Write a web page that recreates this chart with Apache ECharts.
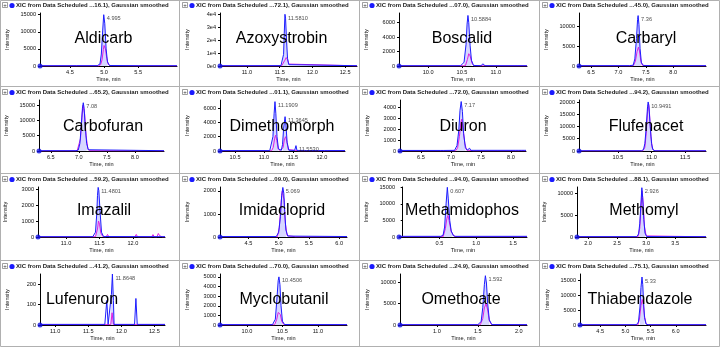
<!DOCTYPE html>
<html><head><meta charset="utf-8">
<script src="https://cdn.jsdelivr.net/npm/echarts@6/dist/echarts.min.js"></script>
<style>html,body{margin:0;padding:0;background:#fff}#c{width:720px;height:347px}</style>
</head><body><div id="c"></div><script>
// ---------- DATA ----------
const names = ["Aldicarb","Azoxystrobin","Boscalid","Carbaryl","Carbofuran","Dimethomorph","Diuron","Flufenacet","Imazalil","Imidacloprid","Methamidophos","Methomyl","Lufenuron","Myclobutanil","Omethoate","Thiabendazole"];
const titleIds = ["16.1","72.1","07.0","45.0","65.2","01.1","72.0","94.2","59.2","09.0","94.0","88.1","41.2","70.0","24.9","75.1"];
const xMins = [4.06,10.59,9.57,6.28,6.29,10.24,6.15,9.92,10.58,4.03,-0.05,1.81,10.77,9.62,0.55,4.10];
const xMaxs = [6.07,12.68,11.46,8.60,8.52,12.40,8.25,11.81,12.48,6.13,1.69,4.03,12.66,11.41,2.10,6.60];
const xTickValues = [[4.5,5.0,5.5],[11.0,11.5,12.0,12.5],[10.0,10.5,11.0],[6.5,7.0,7.5,8.0],[6.5,7.0,7.5,8.0],[10.5,11.0,11.5,12.0],[6.5,7.0,7.5,8.0],[10.5,11.0,11.5],[11.0,11.5,12.0],[4.5,5.0,5.5,6.0],[0.5,1.0,1.5],[2.0,2.5,3.0,3.5],[11.0,11.5,12.0,12.5],[10.0,10.5,11.0],[1.0,1.5,2.0],[4.5,5.0,5.5,6.0]];
const yMaxs = [15500,41000,7340,13460,16700,7130,4640,20800,3125,2170,15100,11360,250,5300,11900,17000];
const yTickValues = [[0,5000,10000,15000],[0,10000,20000,30000,40000],[0,2000,4000,6000],[0,5000,10000],[0,5000,10000,15000],[0,2000,4000,6000],[0,1000,2000,3000,4000],[0,5000,10000,15000,20000],[0,1000,2000,3000],[0,1000,2000],[0,5000,10000,15000],[0,5000,10000],[0,100,200],[0,1000,2000,3000,4000,5000],[0,5000,10000],[0,5000,10000,15000]];
const peakLabels = [[[4.995,15000,"4.995"]],[[11.581,40000,"11.5810"]],[[10.588,7000,"10.5884"]],[[7.36,12800,"7.36"]],[[7.08,15800,"7.08"]],[[11.19,6900,"11.1909"],[11.3645,4800,"11.3645"],[11.553,750,"11.5530"]],[[7.17,4500,"7.17"]],[[10.949,20000,"10.9491"]],[[11.48,3100,"11.4801"]],[[5.069,2150,"5.069"]],[[0.607,15000,"0.607"]],[[2.926,11200,"2.926"]],[[11.8648,250,"11.8648"]],[[10.4506,5000,"10.4506"]],[[1.592,11500,"1.592"]],[[5.33,16000,"5.33"]]];
const fillRanges = [[[4.94,5.05]],[[11.54,11.64]],[[10.53,10.64]],[[7.27,7.42]],[[6.99,7.17]],[[11.13,11.25],[11.32,11.43]],[[7.10,7.24]],[[10.88,11.02]],[[11.44,11.53]],[[5.0,5.12]],[[0.55,0.69]],[[2.87,2.98]],[[11.83,11.89]],[[10.40,10.50]],[[1.54,1.65]],[[5.27,5.40]]];

const blueAldicarb = [[4.06,80],[4.6,90],[4.9,100],[4.94,600],[4.96,3500],[4.98,10500],[4.995,15000],[5.01,12500],[5.03,5000],[5.05,1200],[5.08,150],[5.5,90],[6.07,80]];
const pinkAldicarb = [[4.06,40],[4.92,50],[4.95,400],[4.97,1800],[4.99,4800],[5.0,6000],[5.02,5000],[5.04,2200],[5.06,500],[5.09,50],[6.07,40]];
const blueAzoxystrobin = [[10.59,250],[11.2,250],[11.52,300],[11.54,1500],[11.56,9000],[11.57,25000],[11.581,40000],[11.59,37000],[11.605,20000],[11.62,6000],[11.64,1000],[11.67,300],[12.68,250]];
const pinkAzoxystrobin = [[10.59,100],[11.53,100],[11.56,1500],[11.58,4500],[11.60,6500],[11.62,4800],[11.64,1500],[11.67,150],[12.68,100]];
const blueBoscalid = [[9.57,40],[10.48,40],[10.53,500],[10.56,3000],[10.575,5800],[10.588,7000],[10.60,6000],[10.62,2800],[10.64,800],[10.67,80],[10.78,40],[10.81,300],[10.84,40],[11.46,40]];
const pinkBoscalid = [[9.57,20],[10.28,20],[10.30,180],[10.32,20],[10.55,30],[10.58,900],[10.60,1700],[10.62,1400],[10.65,300],[10.68,30],[10.98,20],[11.0,160],[11.02,20],[11.08,20],[11.1,170],[11.12,20],[11.28,20],[11.3,150],[11.32,20],[11.46,20]];
const blueCarbaryl = [[6.28,80],[7.2,90],[7.27,200],[7.30,1800],[7.33,7000],[7.35,11800],[7.36,12800],[7.375,10500],[7.395,4500],[7.42,800],[7.46,100],[8.6,80]];
const pinkCarbaryl = [[6.28,40],[7.27,40],[7.31,1200],[7.34,3600],[7.365,4800],[7.385,3800],[7.41,1200],[7.44,150],[7.47,40],[7.88,40],[7.9,220],[7.92,40],[8.6,40]];
const blueCarbofuran = [[6.29,100],[6.95,100],[6.99,300],[7.02,2500],[7.045,8500],[7.065,14000],[7.08,15800],[7.095,14000],[7.115,8000],[7.14,2500],[7.17,400],[7.2,100],[8.52,100]];
const pinkCarbofuran = [[6.29,50],[6.97,50],[7.0,600],[7.03,4000],[7.055,11000],[7.075,15000],[7.09,15200],[7.105,12000],[7.13,5000],[7.16,900],[7.19,100],[7.9,60],[7.92,350],[7.94,60],[8.52,50]];
const blueDimethomorph = [[10.24,60],[11.1,60],[11.13,300],[11.155,2000],[11.175,5200],[11.19,6900],[11.205,5200],[11.225,2000],[11.25,300],[11.3,100],[11.32,900],[11.34,3200],[11.3645,4800],[11.38,3600],[11.40,1200],[11.43,100],[11.53,80],[11.553,750],[11.57,80],[11.70,80],[11.72,220],[11.74,60],[11.9,60],[11.92,160],[11.94,60],[12.05,60],[12.07,200],[12.09,60],[12.4,60]];
const pinkDimethomorph = [[10.24,30],[11.13,30],[11.16,500],[11.185,1800],[11.20,2200],[11.22,1500],[11.245,300],[11.28,60],[11.33,500],[11.355,1700],[11.375,2000],[11.395,1300],[11.42,200],[11.45,30],[11.6,30],[11.62,120],[11.64,30],[11.76,30],[11.78,180],[11.8,30],[11.96,30],[11.98,150],[12.0,30],[12.4,30]];
const blueDiuron = [[6.15,50],[6.82,50],[6.85,120],[6.88,50],[7.06,60],[7.10,500],[7.13,1900],[7.15,3700],[7.17,4500],[7.19,3600],[7.21,1600],[7.24,300],[7.27,80],[7.31,250],[7.33,60],[8.08,60],[8.1,150],[8.12,60],[8.18,60],[8.2,220],[8.22,60],[8.25,60]];
const pinkDiuron = [[6.15,20],[7.08,20],[7.11,300],[7.14,1300],[7.165,2600],[7.18,2900],[7.20,2100],[7.23,700],[7.26,80],[7.28,20],[7.38,20],[7.40,160],[7.42,20],[7.73,20],[7.75,110],[7.77,20],[8.25,20]];
const blueFlufenacet = [[9.92,100],[10.85,100],[10.88,600],[10.90,3000],[10.92,9500],[10.94,18000],[10.949,20000],[10.96,18500],[10.98,10000],[11.00,3000],[11.02,500],[11.05,100],[11.81,100]];
const pinkFlufenacet = [[9.92,50],[10.87,50],[10.90,1500],[10.92,7000],[10.94,16000],[10.955,19200],[10.97,15000],[10.99,6000],[11.01,1200],[11.04,100],[11.81,50]];
const blueImazalil = [[10.58,20],[11.40,20],[11.44,300],[11.46,1500],[11.47,2600],[11.48,3100],[11.49,2900],[11.51,1500],[11.53,300],[11.56,30],[12.48,20]];
const pinkImazalil = [[10.58,10],[11.13,10],[11.15,110],[11.17,10],[11.33,10],[11.35,90],[11.37,10],[11.44,20],[11.47,500],[11.485,1000],[11.50,800],[11.52,250],[11.55,20],[11.6,10],[11.62,160],[11.64,10],[11.76,10],[11.78,120],[11.8,10],[11.84,10],[11.86,110],[11.88,10],[11.93,10],[11.95,130],[11.97,10],[12.03,10],[12.05,160],[12.07,10],[12.28,10],[12.30,150],[12.32,10],[12.36,10],[12.38,220],[12.40,80],[12.42,160],[12.44,10],[12.48,10]];
const blueImidacloprid = [[4.03,20],[4.96,20],[5.0,200],[5.03,900],[5.05,1800],[5.069,2150],[5.085,1900],[5.10,1100],[5.12,300],[5.15,40],[6.13,20]];
const pinkImidacloprid = [[4.03,10],[4.63,10],[4.65,90],[4.67,10],[4.98,10],[5.01,400],[5.04,1500],[5.06,2000],[5.075,2050],[5.09,1600],[5.11,600],[5.14,60],[5.17,10],[5.28,10],[5.3,70],[5.32,10],[5.68,10],[5.7,70],[5.72,10],[5.88,10],[5.9,90],[5.92,10],[6.13,10]];
const blueMethamidophos = [[-0.05,200],[0.52,200],[0.55,600],[0.57,3000],[0.59,10000],[0.607,15000],[0.62,11500],[0.64,5000],[0.66,1800],[0.69,400],[0.72,200],[1.69,200]];
const pinkMethamidophos = [[-0.05,100],[0.55,100],[0.58,2500],[0.60,5500],[0.615,6500],[0.63,5000],[0.66,1600],[0.70,200],[0.74,100],[1.69,100]];
const blueMethomyl = [[1.81,80],[2.84,80],[2.87,700],[2.89,3000],[2.91,7500],[2.926,11200],[2.94,9000],[2.96,4000],[2.98,900],[3.01,100],[4.03,80]];
const pinkMethomyl = [[1.81,40],[2.86,40],[2.89,2000],[2.91,6500],[2.93,10500],[2.95,7500],[2.97,2500],[3.00,250],[3.03,40],[4.03,40]];
const blueLufenuron = [[10.77,3],[11.75,3],[11.78,120],[11.80,3],[11.83,3],[11.85,150],[11.8648,250],[11.88,120],[11.89,3],[12.2,3],[12.22,130],[12.24,3],[12.66,3]];
const pinkLufenuron = [[10.77,2],[11.84,2],[11.86,60],[11.88,2],[12.66,2]];
const blueMyclobutanil = [[9.62,40],[10.36,40],[10.40,600],[10.42,2500],[10.44,4600],[10.4506,5000],[10.465,4200],[10.48,2000],[10.50,400],[10.53,50],[11.41,40]];
const pinkMyclobutanil = [[9.62,20],[10.39,20],[10.42,600],[10.44,1300],[10.455,1500],[10.47,1100],[10.49,400],[10.52,30],[11.41,20]];
const blueOmethoate = [[0.55,80],[1.50,80],[1.54,800],[1.56,4000],[1.58,9500],[1.592,11500],[1.605,9800],[1.62,5000],[1.64,1200],[1.67,100],[2.10,80]];
const pinkOmethoate = [[0.55,40],[1.53,40],[1.56,1500],[1.58,4000],[1.60,5000],[1.62,3500],[1.64,1000],[1.67,60],[2.10,40]];
const blueThiabendazole = [[4.10,100],[5.22,100],[5.26,1000],[5.29,6000],[5.31,12500],[5.33,16000],[5.345,13500],[5.36,8000],[5.38,2500],[5.41,300],[5.45,100],[6.60,100]];
const pinkThiabendazole = [[4.10,50],[5.25,50],[5.28,2000],[5.31,6500],[5.335,8500],[5.355,7000],[5.38,3000],[5.41,500],[5.45,50],[6.60,50]];

const blueSeries = [blueAldicarb,blueAzoxystrobin,blueBoscalid,blueCarbaryl,blueCarbofuran,blueDimethomorph,blueDiuron,blueFlufenacet,blueImazalil,blueImidacloprid,blueMethamidophos,blueMethomyl,blueLufenuron,blueMyclobutanil,blueOmethoate,blueThiabendazole];
const pinkSeries = [pinkAldicarb,pinkAzoxystrobin,pinkBoscalid,pinkCarbaryl,pinkCarbofuran,pinkDimethomorph,pinkDiuron,pinkFlufenacet,pinkImazalil,pinkImidacloprid,pinkMethamidophos,pinkMethomyl,pinkLufenuron,pinkMyclobutanil,pinkOmethoate,pinkThiabendazole];

// ---------- LAYOUT (pixels, relative to each panel) ----------
const panelW = 180, panelH = 87;
const plotLeft  = [40,40,39,39, 39,40,40,39, 38,40,39,37, 40,40,40,40];
const plotRight = [177,177,167,166, 164,165,166,166, 165,167,167,166, 165,167,167,166];
const rowBaseline = [66,64,63,64];
const plotTop = 13;
const nameX = [103.5,101.5,102,106, 103,102,103,106, 104,102,102,104, 82,104,101,100];
const nameY = [39,39,39,39, 40,40,40,40, 37,37,37,37, 39,39,39,39];

const BLUE = '#1c1cff', PINK = '#e01ee0', FILL = 'rgba(150,150,255,0.55)';
const FONT = 'Liberation Sans, Arial, sans-serif';

const grids = [], xAxes = [], yAxes = [], series = [], graphics = [];
names.forEach((nm, i) => {
  const col = i % 4, row = Math.floor(i / 4);
  const px = col * panelW, py = row * panelH;
  const base = rowBaseline[row];
  grids.push({left: px + plotLeft[i], top: py + plotTop, width: plotRight[i] - plotLeft[i], height: base - plotTop, outerBoundsMode: 'none', containLabel: false});
  const xt = xTickValues[i], yt = yTickValues[i];
  xAxes.push({gridIndex: i, type: 'value', min: xMins[i], max: xMaxs[i],
    axisLine: {lineStyle: {color: '#000', width: 1}},
    axisTick: {customValues: xt, length: 2, lineStyle: {color: '#000'}},
    axisLabel: {customValues: xt, fontSize: 5.6, color: '#111', margin: 3, fontFamily: FONT, formatter: v => v.toFixed(1)},
    splitLine: {show: false},
    name: 'Time, min', nameLocation: 'middle', nameGap: 10, nameTextStyle: {fontSize: 5.6, color: '#111', fontFamily: FONT}});
  const sci = yMaxs[i] > 30000;
  yAxes.push({gridIndex: i, type: 'value', min: 0, max: yMaxs[i],
    axisLine: {show: true, lineStyle: {color: '#000', width: 1}},
    axisTick: {show: true, customValues: yt, length: 2, lineStyle: {color: '#000'}},
    axisLabel: {customValues: yt, fontSize: 5.6, color: '#111', margin: 4, fontFamily: FONT,
      formatter: v => sci ? (v === 0 ? '0e0' : (v / 10000) + 'e4') : String(v)},
    splitLine: {show: false},
    name: 'Intensity', nameLocation: 'middle', nameGap: 30, nameTextStyle: {fontSize: 5.6, color: '#111', fontFamily: FONT}});
  fillRanges[i].forEach(r => {
    series.push({type: 'line', xAxisIndex: i, yAxisIndex: i, showSymbol: false, silent: true, z: 1,
      data: blueSeries[i].filter(p => p[0] >= r[0] && p[0] <= r[1]),
      lineStyle: {width: 0}, areaStyle: {color: FILL, origin: 'start'}});
  });
  series.push({type: 'line', xAxisIndex: i, yAxisIndex: i, showSymbol: false, silent: true, z: 3,
    data: pinkSeries[i], lineStyle: {color: PINK, width: 1}});
  series.push({type: 'line', xAxisIndex: i, yAxisIndex: i, showSymbol: false, silent: true, z: 4,
    data: blueSeries[i], lineStyle: {color: BLUE, width: 1}});
  series.push({type: 'scatter', xAxisIndex: i, yAxisIndex: i, silent: true, z: 5, symbolSize: 0,
    data: peakLabels[i].map(p => ({value: [p[0], p[1]], name: p[2]})),
    label: {show: true, position: 'right', distance: 3, offset: [0, 4], fontSize: 5.6, color: '#222', fontFamily: FONT, formatter: p => p.name}});
  series.push({type: 'scatter', xAxisIndex: i, yAxisIndex: i, silent: true, z: 6, symbol: 'circle', symbolSize: 5, clip: false,
    itemStyle: {color: '#1010e0'}, data: [[xMins[i], 0]]});
  graphics.push({type: 'rect', shape: {x: px + 2.5, y: py + 2.5, width: 5, height: 5}, style: {fill: '#fff', stroke: '#777', lineWidth: 0.7}});
  graphics.push({type: 'text', x: px + 5, y: py + 5.2, style: {text: '+', fill: '#333', align: 'center', verticalAlign: 'middle', font: '6px ' + FONT}});
  graphics.push({type: 'circle', shape: {cx: px + 12, cy: py + 5.5, r: 2.6}, style: {fill: '#1a1aff'}});
  graphics.push({type: 'text', x: px + 16, y: py + 5.8, style: {text: 'XIC from Data Scheduled ...' + titleIds[i] + '), Gaussian smoothed', fill: '#222', verticalAlign: 'middle', font: 'bold 6px ' + FONT}});
  graphics.push({type: 'text', x: px + nameX[i], y: py + nameY[i], z: 100, style: {text: nm, fill: '#000', align: 'center', verticalAlign: 'middle', font: '16px ' + FONT}});
});
for (let c = 1; c < 4; c++) graphics.push({type: 'line', shape: {x1: c * panelW - 0.5, y1: 0, x2: c * panelW - 0.5, y2: 347}, style: {stroke: '#b0b0b0', lineWidth: 1}});
for (let r = 1; r < 4; r++) graphics.push({type: 'line', shape: {x1: 0, y1: r * panelH - 0.5, x2: 720, y2: r * panelH - 0.5}, style: {stroke: '#b0b0b0', lineWidth: 1}});
graphics.push({type: 'rect', shape: {x: 0.5, y: 0.5, width: 719, height: 346}, style: {fill: 'none', stroke: '#b0b0b0', lineWidth: 1}});

const chart = echarts.init(document.getElementById('c'), null, {renderer: 'canvas'});
chart.setOption({animation: false, backgroundColor: '#fff', grid: grids, xAxis: xAxes, yAxis: yAxes, series: series, graphic: graphics});
</script></body></html>
